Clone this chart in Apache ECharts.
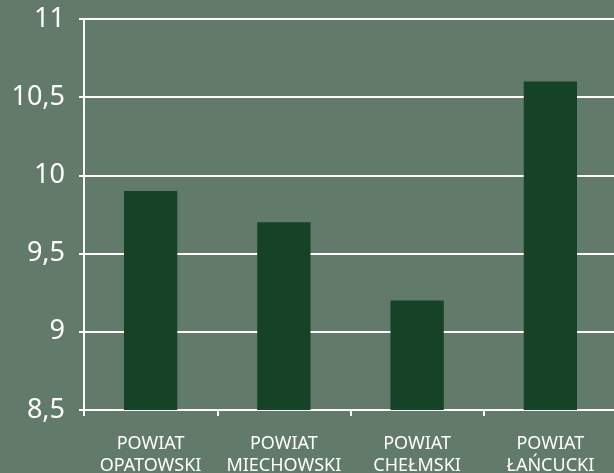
<!DOCTYPE html>
<html>
<head>
<meta charset="utf-8">
<style>
html,body{margin:0;padding:0;background:#627a69;}
#chart{width:614px;height:473px;}
</style>
<script src="https://cdn.jsdelivr.net/npm/echarts@6/dist/echarts.min.js"></script>
</head>
<body>
<div id="chart"></div>
<script>
const categories = ['POWIAT\nOPATOWSKI', 'POWIAT\nMIECHOWSKI', 'POWIAT\nCHEŁMSKI', 'POWIAT\nŁAŃCUCKI'];
const values = [9.9, 9.7, 9.2, 10.6];
const yMin = 8.5, yMax = 11, yStep = 0.5;

const chart = echarts.init(document.getElementById('chart'), null, {renderer: 'canvas'});
chart.setOption({
  backgroundColor: '#627a69',
  animation: false,
  grid: {left: 84, right: -3, top: 19, bottom: 63, containLabel: false, outerBoundsMode: 'none'},
  xAxis: {
    type: 'category',
    data: categories,
    axisLine: {lineStyle: {color: '#ffffff', width: 2}},
    axisTick: {show: true, length: 6, lineStyle: {color: '#ffffff', width: 2}},
    axisLabel: {color: '#ffffff', fontFamily: 'Noto Sans', fontSize: 18, lineHeight: 22, margin: 23, interval: 0}
  },
  yAxis: {
    type: 'value',
    min: yMin, max: yMax, interval: yStep,
    axisLine: {show: true, lineStyle: {color: '#ffffff', width: 2}},
    axisTick: {show: true, length: 5, lineStyle: {color: '#ffffff', width: 2}},
    splitLine: {show: true, lineStyle: {color: '#ffffff', width: 2}},
    axisLabel: {color: '#ffffff', fontFamily: 'Noto Sans', fontSize: 27, margin: 19,
      formatter: v => String(v).replace('.', ',')}
  },
  series: [{
    type: 'bar',
    data: values,
    barWidth: '40%',
    itemStyle: {color: '#164228'}
  }]
});
</script>
</body>
</html>
